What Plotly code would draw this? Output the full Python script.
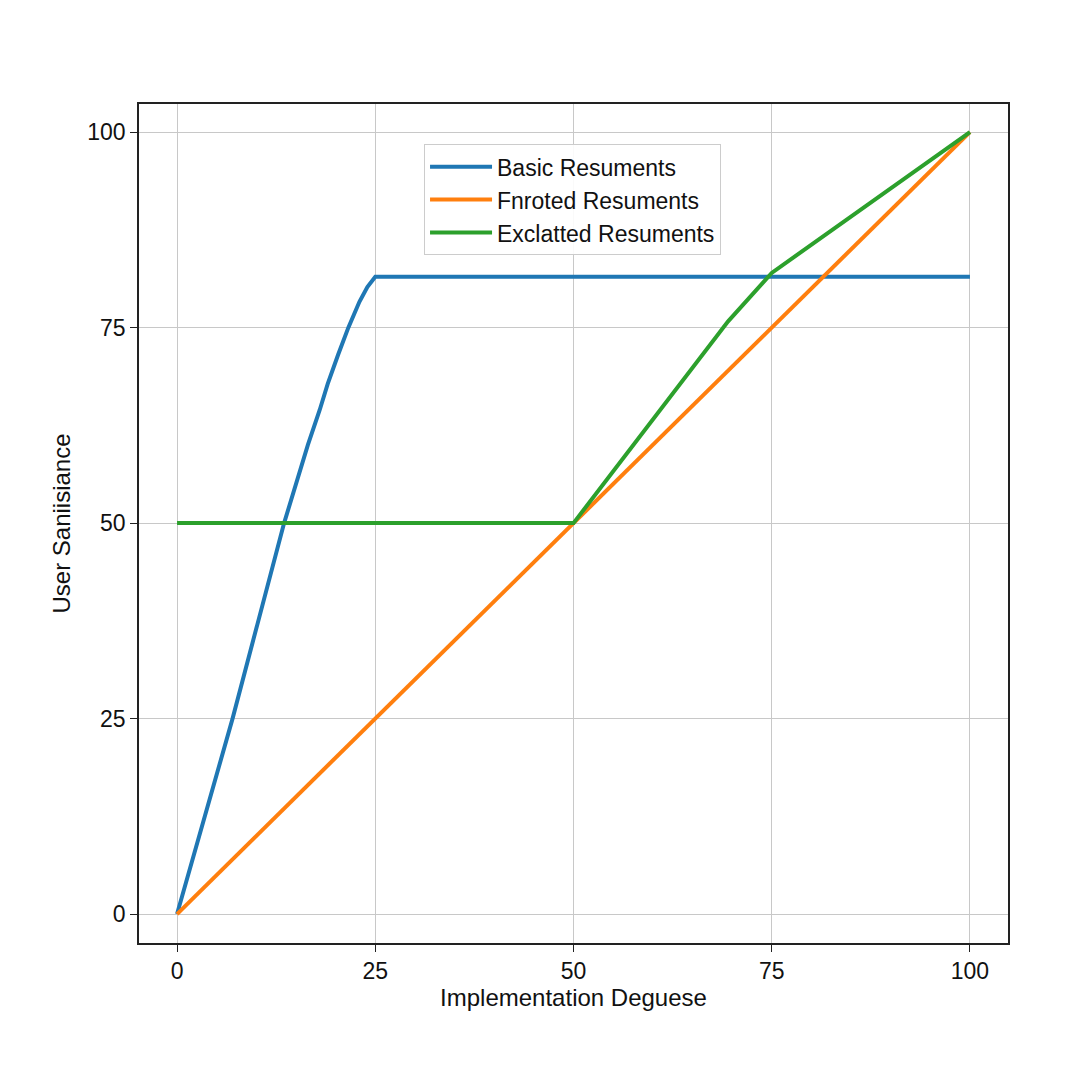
import plotly.graph_objects as go

# === Data ===
basic_x = [0, 7, 13.5, 15, 16.5, 18, 19, 20.3, 21.6, 23, 24, 25, 100]
basic_y = [0, 25, 50, 55, 60, 64.5, 67.8, 71.5, 75, 78.3, 80.2, 81.5, 81.5]

formed_x = [0, 25, 50, 75, 100]
formed_y = [0, 25, 50, 75, 100]

excited_x = [0, 50, 69.5, 75, 100]
excited_y = [50, 50, 75.8, 82, 100]

names = ["Basic Resuments", "Fnroted Resuments", "Exclatted Resuments"]
colors = ["#1f77b4", "#ff7f0e", "#2ca02c"]
ticks = [0, 25, 50, 75, 100]

# === Plot ===
fig = go.Figure()
fig.add_trace(go.Scatter(x=basic_x, y=basic_y, mode="lines", name=names[0],
                         line=dict(color=colors[0], width=4)))
fig.add_trace(go.Scatter(x=formed_x, y=formed_y, mode="lines", name=names[1],
                         line=dict(color=colors[1], width=4)))
fig.add_trace(go.Scatter(x=excited_x, y=excited_y, mode="lines", name=names[2],
                         line=dict(color=colors[2], width=4)))

axis_style = dict(
    tickvals=ticks,
    showline=True, mirror=True, linecolor="#222222", linewidth=1.5,
    ticks="outside", ticklen=7, tickwidth=1.3, tickcolor="#222222",
    showgrid=True, gridcolor="#c8c8c8", gridwidth=1.2,
    zeroline=False,
    tickfont=dict(size=23, color="#111111"),
)

fig.update_layout(
    width=1080, height=1080,
    margin=dict(l=131, r=80, t=96, b=145),
    paper_bgcolor="white", plot_bgcolor="white",
    font=dict(family="Liberation Sans, Arial, sans-serif", color="#111111"),
    xaxis=dict(range=[-4.8, 104.8], title=dict(text="Implementation Deguese",
               font=dict(size=24), standoff=6), **axis_style),
    yaxis=dict(range=[-3.7, 103.6], title=dict(text="User Saniisiance",
               font=dict(size=24), standoff=10), **axis_style),
    legend=dict(x=0.328, y=0.952, xanchor="left", yanchor="top",
                bgcolor="rgba(255,255,255,0.9)", bordercolor="#cccccc", borderwidth=1,
                font=dict(size=23), itemwidth=62, tracegroupgap=0),
    showlegend=True,
)

fig.write_html("out.html")
